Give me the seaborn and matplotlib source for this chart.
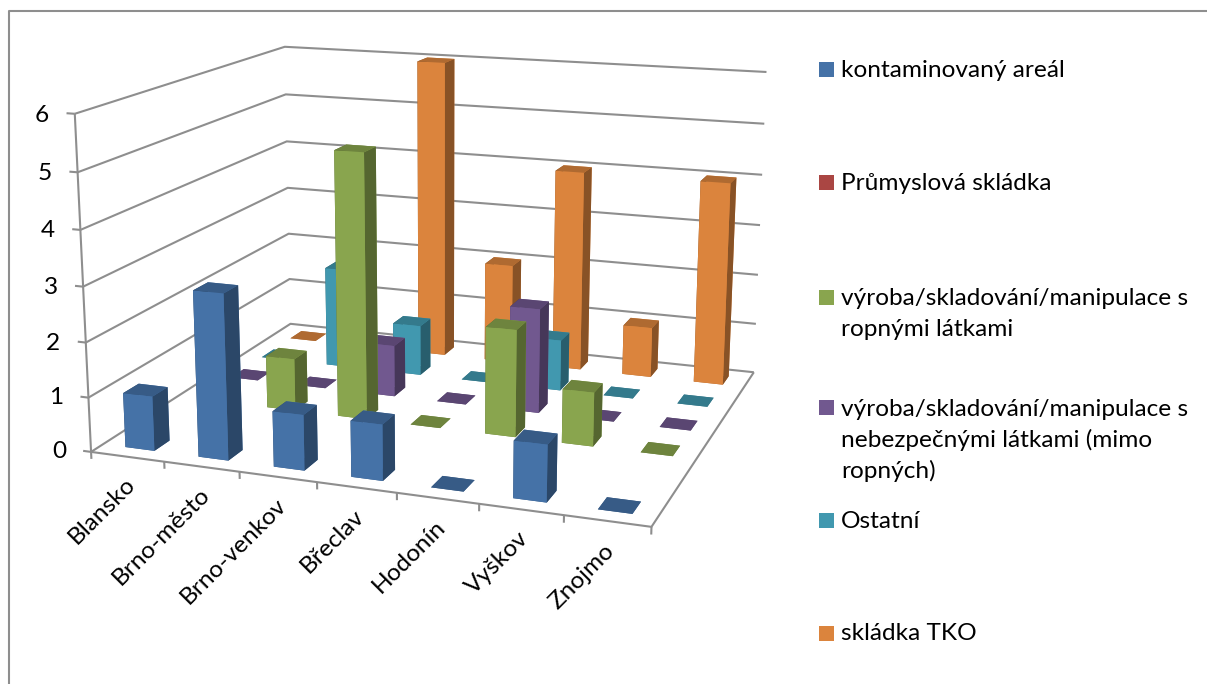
import numpy as np
import matplotlib
matplotlib.use("Agg")
import matplotlib.pyplot as plt
from matplotlib.lines import Line2D
from matplotlib.patches import Rectangle
from mpl_toolkits.mplot3d import proj3d
import seaborn as sns

# Okresy on the category axis
districts = ["Blansko", "Brno-město", "Brno-venkov", "Břeclav", "Hodonín", "Vyškov", "Znojmo"]

# Number of sites per district, one list per type of site
kontaminovany_areal = [1, 3, 1, 1, 0, 1, 0]
prumyslova_skladka = [None, None, None, None, None, None, None]
ropne_latky = [0, 1, 5, 0, 2, 1, 0]
nebezpecne_latky = [0, 0, 1, 0, 2, 0, 0]
ostatni = [0, 2, 1, 0, 1, 0, 0]
skladka_tko = [0, 0, 6, 2, 4, 1, 4]

series_values = [kontaminovany_areal, prumyslova_skladka, ropne_latky,
                 nebezpecne_latky, ostatni, skladka_tko]
series_labels = [
    ["kontaminovaný areál"],
    ["Průmyslová skládka"],
    ["výroba/skladování/manipulace s", "ropnými látkami"],
    ["výroba/skladování/manipulace s", "nebezpečnými látkami (mimo", "ropných)"],
    ["Ostatní"],
    ["skládka TKO"],
]
series_colors = ["#4572A7", "#AA4643", "#89A54E", "#71588F", "#4198AF", "#DB843D"]
z_ticks = [0, 1, 2, 3, 4, 5, 6]

W, H = 1207, 684
sns.set_theme(style="white", font="Lato")
palette = sns.color_palette(series_colors)
GRID = "#8E8E8E"
FONT = 17.6

fig = plt.figure(figsize=(W / 100, H / 100), dpi=100, facecolor="white")
side = 767.0
ax = fig.add_axes([49.14 / W, 36.2 / H, side / W, side / H], projection="3d",
                  computed_zorder=False)
ax.set_xlim(0, 7)
ax.set_ylim(0, 6)
ax.set_zlim(0, 6)
ax.view_init(elev=14.2457, azim=-70.1609)
ax.set_proj_type("persp", focal_length=0.4599)
ax.set_box_aspect((1.6756, 1.4121, 1.0))
ax.set_axis_off()
ax.patch.set_alpha(0)


def line(xs, ys, zs, lw=1.5):
    ax.plot(xs, ys, zs, color=GRID, lw=lw, zorder=1, solid_capstyle="butt")


# Walls: gridlines on the back and left panels, then the floor outline
for z in z_ticks:
    line([0, 0, 7], [0, 6, 6], [z, z, z])
    line([-0.11, 0], [0, 0], [z, z])
line([0, 0], [0, 0], [-0.13, 6])
line([0, 7, 7], [0, 0, 6], [0, 0, 0])
for i in range(1, 8):
    line([i, i], [0, 0], [-0.13, 0])

# Bars from the back row forward, left to right, so nearer ones paint over farther ones
bar = 0.40
order = 10
for j in range(len(series_values) - 1, -1, -1):
    base = np.array(palette[j])
    face_colors = [base * 0.8, base * 0.8, base, base, base * 0.62, base * 0.62]
    for i, value in enumerate(series_values[j]):
        if value is None:
            continue
        ax.bar3d(i + 0.51 - bar / 2, j + 0.5 - bar / 2, 0, bar, bar, value,
                 color=[tuple(c) for c in face_colors], shade=False,
                 linewidth=0, edgecolor="none", zorder=order)
        order += 1


def label_at(x, y, z, text, **kwargs):
    # Labels stay upright on screen, so they are placed at the projected point
    u, v, _ = proj3d.proj_transform(x, y, z, ax.get_proj())
    ax.annotate(text, xy=(u, v), xycoords="data", fontsize=FONT, color="black",
                annotation_clip=False, zorder=200, **kwargs)


# Value and category labels
for z in z_ticks:
    label_at(-0.35, 0, z - 0.06, str(z), ha="right", va="center")
for i, name in enumerate(districts):
    label_at(i + 0.55, 0, -0.44, name, rotation=45, rotation_mode="anchor", ha="right", va="center")


def fx(px):
    return px / W


def fy(py):
    return 1 - py / H


# Legend swatches with their wrapped labels
legend_rows = [69.5, 182.5, 297.5, 408, 520, 633]
line_pitch = 30.8
for color, lines, y in zip(palette, series_labels, legend_rows):
    fig.add_artist(Rectangle((fx(819), fy(y + 7.5)), 15 / W, 15 / H, transform=fig.transFigure,
                             facecolor=color, edgecolor="none"))
    for k, text in enumerate(lines):
        fig.text(fx(841), fy(y - 1 + k * line_pitch), text, ha="left", va="center_baseline",
                 fontsize=FONT, color="black")

# Chart-area frame
fig.add_artist(Line2D([fx(8.5), fx(8.5), 1], [0, fy(11), fy(11)], transform=fig.transFigure,
                      color=GRID, lw=1.5))

fig.savefig("out.png", dpi=100, facecolor="white")
